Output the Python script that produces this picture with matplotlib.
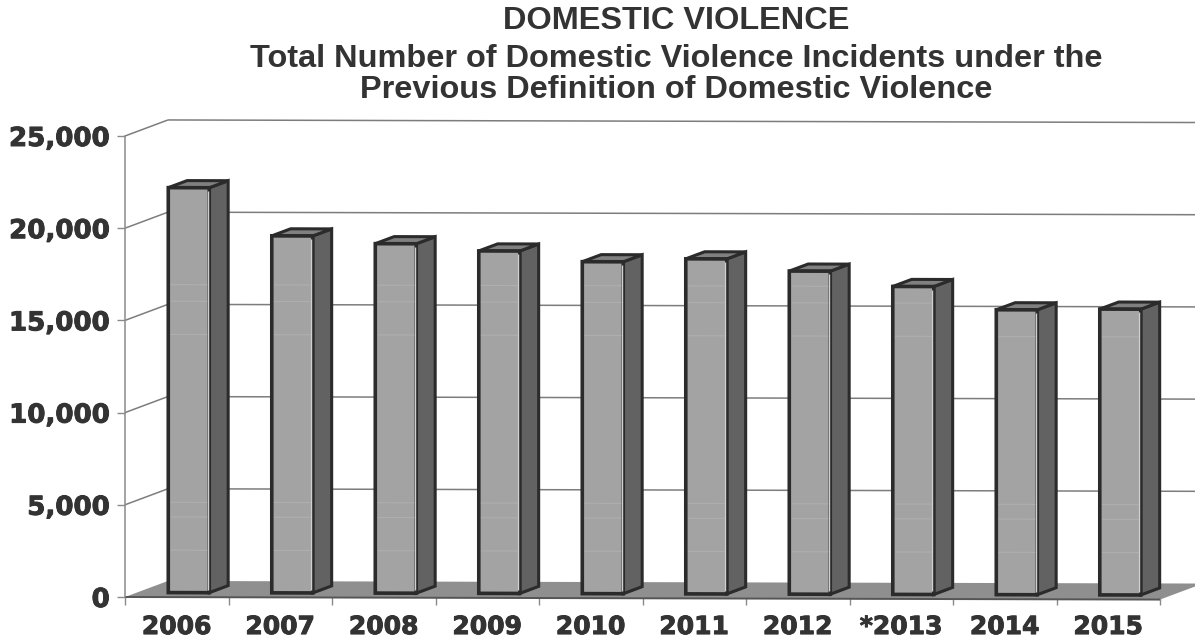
import matplotlib
matplotlib.use("Agg")
import matplotlib.pyplot as plt
from matplotlib.patches import Polygon
import matplotlib.patheffects as pe

years = ['2006', '2007', '2008', '2009', '2010', '2011', '2012', '*2013', '2014', '2015']
incidents = [21960, 19360, 18950, 18570, 18000, 18170, 17520, 16700, 15450, 15500]
y_ticks = [0, 5000, 10000, 15000, 20000, 25000]
title_lines = ['DOMESTIC VIOLENCE',
               'Total Number of Domestic Violence Incidents under the',
               'Previous Definition of Domestic Violence']

W, H = 1195, 638
# 3D look: how far the back wall sits from the front plane, in data units
DEPTH_X = 0.415
DEPTH_Y = 870
TILT = 14  # the scan is slightly rotated
BAR_W = 0.396
D0, D1 = 0.28, 0.72
# faint light rows the scan left across the bars
scan_rows = [2300, 4100, 4900, 14000, 15800, 16700]


def proj(cat, val, depth=0.0):
    return cat + depth * DEPTH_X, val + depth * DEPTH_Y - TILT * cat


def poly(ax, pts, fc, ec='none', lw=0, z=2):
    ax.add_patch(Polygon([proj(*p) for p in pts], closed=True, facecolor=fc, edgecolor=ec,
                         linewidth=lw, zorder=z, clip_on=False, joinstyle='miter'))


def line(ax, a, b, color='#7d7d7d', lw=1.1, z=1, alpha=1.0):
    pa, pb = proj(*a), proj(*b)
    ax.plot([pa[0], pb[0]], [pa[1], pb[1]], color=color, lw=lw, zorder=z, clip_on=False,
            solid_capstyle='butt', alpha=alpha)


fig = plt.figure(figsize=(W / 100, H / 100), dpi=100, facecolor='white')
ax = fig.add_axes([125 / W, 1 - 597 / H, 1035 / W, 461 / H])
ax.set_xlim(0, 10)
ax.set_ylim(0, 25000)
ax.patch.set_visible(False)
for s in ['top', 'right', 'bottom']:
    ax.spines[s].set_visible(False)
ax.spines['left'].set_color('#8a8a8a')
ax.spines['left'].set_linewidth(1.1)

# floor
poly(ax, [(0, 0, 0), (10, 0, 0), (10, 0, 1), (0, 0, 1)], '#8f8f8f', z=1.5)
line(ax, (0, 0), (10, 0), color='#555555', lw=1.4, z=1.6)

# gridlines: oblique on the side wall, then along the back wall
for v in y_ticks[1:]:
    line(ax, (0, v, 0), (0, v, 1))
    line(ax, (0, v, 1), (10, v, 1))

for i, v in enumerate(incidents):
    l, r = i + 0.5 - BAR_W / 2, i + 0.5 + BAR_W / 2
    edge = '#2b2b2b'
    # side, top, then front so the front outline stays on top
    poly(ax, [(r, 0, D0), (r, 0, D1), (r, v, D1), (r, v, D0)], '#626262', edge, 2.2, z=3)
    poly(ax, [(l, v, D0), (r, v, D0), (r, v, D1), (l, v, D1)], '#808080', edge, 2.2, z=3)
    poly(ax, [(l, 0, D0), (r, 0, D0), (r, v, D0), (l, v, D0)], '#a3a3a3', edge, 2.6, z=4)
    inner = r - 0.014
    line(ax, (inner, 170, D0), (inner, v - 170, D0), color='#cfcfcf', lw=1.0, z=5)
    for row in scan_rows:
        if row < v - 300:
            line(ax, (l + 0.02, row, D0), (inner, row, D0), color='#dcdcdc', lw=0.8, z=5, alpha=0.2)

label_fx = [pe.withStroke(linewidth=0.7, foreground='#333333')]
ax.set_yticks(y_ticks)
ax.set_yticklabels([f'{v:,}' for v in y_ticks], fontweight='bold', fontsize=18.8, color='#333333',
                   path_effects=label_fx)
ax.tick_params(axis='y', length=6, width=1.0, color='#8a8a8a', pad=5)
ax.set_xticks(range(11))
ax.set_xticklabels([])
ax.set_xticks([i + 0.5 for i in range(10)], minor=True)
ax.set_xticklabels(years, minor=True, fontweight='bold', fontsize=18, color='#333333',
                   path_effects=label_fx)
ax.tick_params(axis='x', which='major', length=6, width=1.0, color='#8a8a8a')
ax.tick_params(axis='x', which='minor', length=0, pad=13)

# title lines are not evenly spaced in the original, so they are placed one by one
for txt, py in zip(title_lines, [21, 59, 90]):
    fig.text(676 / W, 1 - py / H, txt, ha='center', va='center', family='Liberation Sans',
             fontweight='bold', fontsize=23.4, color='#333333')

fig.savefig('out.png', dpi=100)
